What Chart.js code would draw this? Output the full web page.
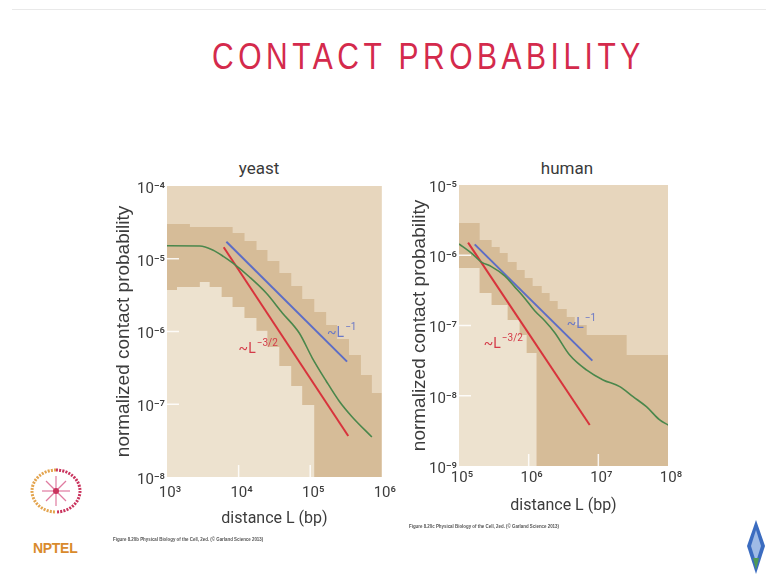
<!DOCTYPE html>
<html>
<head>
<meta charset="utf-8">
<script src="https://cdn.jsdelivr.net/npm/chart.js@4.4.1/dist/chart.umd.min.js"></script>
<style>
  body { margin: 0; width: 766px; height: 577px; background: #fff; position: relative; overflow: hidden;
         font-family: 'Liberation Sans', Arial, sans-serif; }
  .abs { position: absolute; }
  #topline { left: 12px; top: 9px; width: 754px; height: 1px; background: #e9e9e9; }
  #title { left: 212px; top: 38px; font-size: 30px; line-height: 30px; letter-spacing: 4.5px; color: #d42a4c;
           transform: scaleY(1.22); transform-origin: 0 0; white-space: nowrap; }
  .sub { width: 100px; text-align: center; font-size: 17px; line-height: 17px; color: #3a3a3a;
         font-family: Roboto, 'Liberation Sans', sans-serif; }
  .cap { font-size: 5px; font-weight: bold; color: #555; white-space: nowrap; transform: scaleX(0.88); transform-origin: 0 0; }
</style>
</head>
<body>
<div id="topline" class="abs"></div>
<div id="title" class="abs">CONTACT PROBABILITY</div>
<div class="abs sub" style="left:209px;top:160px">yeast</div>
<div class="abs sub" style="left:517px;top:160px">human</div>
<canvas id="yeast" class="abs" style="left:100px;top:150px" width="300" height="395"></canvas>
<canvas id="human" class="abs" style="left:395px;top:150px" width="290" height="384"></canvas>
<div class="abs cap" style="left:113px;top:536px">Figure 8.20b Physical Biology of the Cell, 2ed. (© Garland Science 2013)</div>
<div class="abs cap" style="left:409px;top:523px">Figure 8.20c Physical Biology of the Cell, 2ed. (© Garland Science 2013)</div>

<svg class="abs" style="left:26px;top:466px" width="64" height="92">
  <path d="M30 4 A24 21 0 0 0 30 46" fill="none" stroke="#e3a44e" stroke-width="3" stroke-dasharray="2 1.2"/>
  <path d="M30 4 A24 21 0 0 1 30 46" fill="none" stroke="#c9335d" stroke-width="3" stroke-dasharray="2 1.2"/>
  <g stroke="#e07ba0" stroke-width="1.2">
    <line x1="30" y1="10" x2="30" y2="40"/><line x1="16" y1="25" x2="44" y2="25"/>
    <line x1="20" y1="15" x2="40" y2="35"/><line x1="40" y1="15" x2="20" y2="35"/>
  </g>
  <circle cx="30" cy="25" r="3" fill="#c9335d"/>
  <text x="7" y="87" font-family="Liberation Sans, Arial, sans-serif" font-weight="bold" font-size="14" fill="#d98a2c" letter-spacing="-0.3">NPTEL</text>
</svg>
<svg class="abs" style="left:745px;top:518px" width="21" height="58">
  <polygon points="11,2 20,28 11,56 2,28" fill="#3b6cc0"/>
  <polygon points="11,12 16,28 11,44 6,28" fill="#9fbbe6"/>
  <polygon points="8,40 11,52 14,40" fill="#4f9a55"/>
</svg>

<script>
// yeast (L in bp, P = normalized contact probability)
const yeastXTicks = [1e3, 1e4, 1e5, 1e6];
const yeastYTicks = [1e-8, 1e-7, 1e-6, 1e-5, 1e-4];
const yeastGreenL = [1.0e3, 2.87e3, 4.35e3, 6.19e3, 8.26e3, 1.42e4, 2.43e4, 4.08e4, 7.03e4, 1.07e5, 1.67e5, 2.53e5, 3.83e5, 7.26e5];
const yeastGreenP = [1.51e-5, 1.50e-5, 1.32e-5, 1.07e-5, 8.75e-6, 5.61e-6, 3.38e-6, 1.80e-6, 9.53e-7, 4.32e-7, 2.09e-7, 1.11e-7, 6.75e-8, 3.55e-8];
const yeastBlueL = [6.75e3, 3.27e5];
const yeastBlueP = [1.71e-5, 3.85e-7];
const yeastRedL = [6.19e3, 3.4e5];
const yeastRedP = [1.44e-5, 3.66e-8];
const yeastBandTopL = [1e3, 2.09e3, 8.25e3, 1.21e4, 1.78e4, 2.53e4, 3.71e4, 5.44e4, 7.74e4, 1.14e5, 1.67e5, 2.37e5, 3.48e5, 5.11e5, 7.26e5, 1e6];
const yeastBandTopP = [3.0e-5, 2.73e-5, 2.26e-5, 1.75e-5, 1.32e-5, 9.3e-6, 6.37e-6, 4.22e-6, 2.80e-6, 1.85e-6, 1.23e-6, 7.88e-7, 4.75e-7, 2.52e-7, 1.43e-7, 1.43e-7];
const yeastBandLowL = [1e3, 1.38e3, 2.87e3, 3.95e3, 5.81e3, 8.25e3, 1.21e4, 1.78e4, 2.53e4, 3.71e4, 5.44e4, 7.74e4, 1.14e5, 1e6];
const yeastBandLowP = [3.72e-6, 4.09e-6, 4.79e-6, 4.09e-6, 2.98e-6, 2.17e-6, 1.53e-6, 1.02e-6, 6.12e-7, 3.36e-7, 1.78e-7, 9.77e-8, 1e-8, 1e-8];
const yeastNoteL = [1.72e5, 1.0e4];
const yeastNoteP = [8.4e-7, 5.06e-7];

// human
const humanXTicks = [1e5, 1e6, 1e7, 1e8];
const humanYTicks = [1e-9, 1e-8, 1e-7, 1e-6, 1e-5];
const humanGreenL = [1e5, 1.51e5, 2.10e5, 2.92e5, 4.53e5, 6.30e5, 8.77e5, 1.22e6, 1.70e6, 2.37e6, 3.88e6, 6.74e6, 1.17e7, 2.03e7, 3.15e7, 4.90e7, 7.60e7, 1e8];
const humanGreenP = [1.45e-6, 1.07e-6, 8.0e-7, 6.9e-7, 5.1e-7, 3.55e-7, 2.45e-7, 1.62e-7, 1.17e-7, 7.9e-8, 3.80e-8, 2.33e-8, 1.68e-8, 1.35e-8, 9.7e-9, 6.98e-9, 4.52e-9, 3.84e-9];
const humanBlueL = [1.68e5, 8.2e6];
const humanBlueP = [1.43e-6, 3.16e-8];
const humanRedL = [1.35e5, 7.52e6];
const humanRedP = [1.51e-6, 3.83e-9];
const humanBandTopL = [1e5, 1.98e5, 2.94e5, 3.84e5, 5.00e5, 6.73e5, 8.77e5, 1.14e6, 1.54e6, 2.00e6, 2.61e6, 3.52e6, 4.58e6, 6.81e6, 2.55e7, 1e8];
const humanBandTopP = [2.88e-6, 1.65e-6, 1.31e-6, 1.08e-6, 8.02e-7, 6.17e-7, 4.74e-7, 3.65e-7, 2.90e-7, 2.23e-7, 1.72e-7, 1.32e-7, 1.02e-7, 7.32e-8, 3.80e-8, 3.80e-8];
const humanBandLowL = [1e5, 1.98e5, 2.94e5, 5.00e5, 7.43e5, 9.37e5, 1.30e6, 1e8];
const humanBandLowP = [6.59e-7, 2.90e-7, 1.96e-7, 1.20e-7, 7.32e-8, 4.07e-8, 1e-9, 1e-9];
const humanNoteL = [3.52e6, 2.27e5];
const humanNoteP = [9.2e-8, 4.79e-8];

// slope annotations: blue first, red second
const noteBase = ['~L', '~L'];
const noteExp = ['\u22121', '\u22123/2'];

const ABOVE = '#e7d6bd';
const BELOW = '#ede2cf';
const BAND = '#d6bc98';
const GREEN = '#4a874c';
const BLUE = '#5d6dc6';
const RED = '#d8333c';
const AXIS_FONT = "Roboto, 'Liberation Sans', sans-serif";
const TEXT = '#3c3c3c';

const SUP = {'-': '\u207B', '0': '\u2070', '1': '\u00B9', '2': '\u00B2', '3': '\u00B3', '4': '\u2074',
             '5': '\u2075', '6': '\u2076', '7': '\u2077', '8': '\u2078', '9': '\u2079'};
function decadeLabel(v) {
    const e = Math.round(Math.log10(v));
    return '10' + String(e).split('').map(c => SUP[c]).join('');
}
function pts(xs, ys) {
    return xs.map((x, i) => ({x: x, y: ys[i]}));
}

// plot background above the band
const areaFill = {
    id: 'areaFill',
    beforeDraw(chart) {
        const {ctx, chartArea: a} = chart;
        ctx.save();
        ctx.fillStyle = ABOVE;
        ctx.fillRect(a.left, a.top, a.right - a.left, a.bottom - a.top);
        ctx.restore();
    }
};

// short white tick marks pointing into the plot
const innerTicks = {
    id: 'innerTicks',
    afterDatasetsDraw(chart) {
        const {ctx, chartArea: a, scales: {x, y}} = chart;
        ctx.save();
        ctx.strokeStyle = 'rgba(255,255,255,0.85)';
        ctx.lineWidth = 1.5;
        x.ticks.forEach(t => {
            const px = x.getPixelForValue(t.value);
            if (px < a.left + 2 || px > a.right - 2) return;
            ctx.beginPath(); ctx.moveTo(px, a.bottom); ctx.lineTo(px, a.bottom - 12); ctx.stroke();
        });
        y.ticks.forEach(t => {
            const py = y.getPixelForValue(t.value);
            if (py < a.top + 2 || py > a.bottom - 2) return;
            ctx.beginPath(); ctx.moveTo(a.left, py); ctx.lineTo(a.left + 12, py); ctx.stroke();
        });
        ctx.restore();
    }
};

// "~L^-1" style labels next to the power-law lines
const slopeNotes = {
    id: 'slopeNotes',
    afterDatasetsDraw(chart, args, opts) {
        const {ctx, scales: {x, y}} = chart;
        const colors = ['#6a78c6', '#d43a48'];
        opts.L.forEach((L, i) => {
            const px = x.getPixelForValue(L), py = y.getPixelForValue(opts.P[i]);
            ctx.save();
            ctx.fillStyle = colors[i];
            ctx.textBaseline = 'alphabetic';
            ctx.font = '14px ' + AXIS_FONT;
            ctx.fillText(noteBase[i], px, py);
            const w = ctx.measureText(noteBase[i]).width;
            ctx.font = '10px ' + AXIS_FONT;
            ctx.fillText(noteExp[i], px + w + 1, py - 7);
            ctx.restore();
        });
    }
};

function makeChart(id, d) {
    const line = (xs, ys, color, w, smooth) => ({
        data: pts(xs, ys), borderColor: color, borderWidth: w, pointRadius: 0, fill: false,
        tension: smooth ? 0.4 : 0, cubicInterpolationMode: smooth ? 'monotone' : 'default', order: 0
    });
    return new Chart(document.getElementById(id), {
        type: 'line',
        data: {
            datasets: [
                { data: pts(d.lowL, d.lowP), stepped: true, borderColor: 'rgba(0,0,0,0)', borderWidth: 0,
                  pointRadius: 0, fill: 'start', backgroundColor: BELOW, order: 3 },
                { data: pts(d.topL, d.topP), stepped: true, borderColor: 'rgba(0,0,0,0)', borderWidth: 0,
                  pointRadius: 0, fill: '-1', backgroundColor: BAND, order: 2 },
                line(d.greenL, d.greenP, GREEN, 1.6, true),
                line(d.blueL, d.blueP, BLUE, 2, false),
                line(d.redL, d.redP, RED, 2, false)
            ]
        },
        options: {
            responsive: false,
            animation: false,
            events: [],
            layout: { padding: { top: d.padTop, right: 17, left: 0, bottom: 0 } },
            plugins: {
                legend: { display: false },
                tooltip: { enabled: false },
                slopeNotes: { L: d.noteL, P: d.noteP }
            },
            scales: {
                x: {
                    type: 'logarithmic', min: d.xTicks[0], max: d.xTicks[d.xTicks.length - 1],
                    afterBuildTicks: s => { s.ticks = d.xTicks.map(v => ({value: v})); },
                    afterFit: s => { s.height = 68; },
                    grid: { display: false, drawTicks: false }, border: { display: false },
                    ticks: { callback: v => decadeLabel(v), font: { size: 15, family: AXIS_FONT }, color: TEXT,
                             padding: d.xTickPad, maxRotation: 0, autoSkip: false, labelOffset: 3 },
                    title: { display: true, text: 'distance L (bp)', font: { size: 16, family: AXIS_FONT }, color: TEXT,
                             padding: { top: 0, bottom: d.xTitlePad } }
                },
                y: {
                    type: 'logarithmic', min: d.yTicks[0], max: d.yTicks[d.yTicks.length - 1],
                    afterBuildTicks: s => { s.ticks = d.yTicks.map(v => ({value: v})); },
                    afterFit: s => { s.width = d.yWidth; },
                    grid: { display: false, drawTicks: false }, border: { display: false },
                    ticks: { callback: v => decadeLabel(v), font: { size: 15, family: AXIS_FONT }, color: TEXT,
                             padding: 2, autoSkip: false, labelOffset: 3 },
                    title: { display: true, text: 'normalized contact probability',
                             font: { size: 19, family: "'Liberation Sans', Arial, sans-serif" }, color: TEXT,
                             padding: { top: d.yTitlePad, bottom: 0 } }
                }
            }
        },
        plugins: [areaFill, innerTicks, slopeNotes]
    });
}

makeChart('yeast', {
    xTicks: yeastXTicks, yTicks: yeastYTicks, padTop: 36, yWidth: 67, yTitlePad: 12, xTickPad: 7, xTitlePad: 16,
    greenL: yeastGreenL, greenP: yeastGreenP, blueL: yeastBlueL, blueP: yeastBlueP, redL: yeastRedL, redP: yeastRedP,
    topL: yeastBandTopL, topP: yeastBandTopP, lowL: yeastBandLowL, lowP: yeastBandLowP,
    noteL: yeastNoteL, noteP: yeastNoteP
});
makeChart('human', {
    xTicks: humanXTicks, yTicks: humanYTicks, padTop: 35, yWidth: 64, yTitlePad: 13, xTickPad: 3, xTitlePad: 18,
    greenL: humanGreenL, greenP: humanGreenP, blueL: humanBlueL, blueP: humanBlueP, redL: humanRedL, redP: humanRedP,
    topL: humanBandTopL, topP: humanBandTopP, lowL: humanBandLowL, lowP: humanBandLowP,
    noteL: humanNoteL, noteP: humanNoteP
});
</script>
</body>
</html>
